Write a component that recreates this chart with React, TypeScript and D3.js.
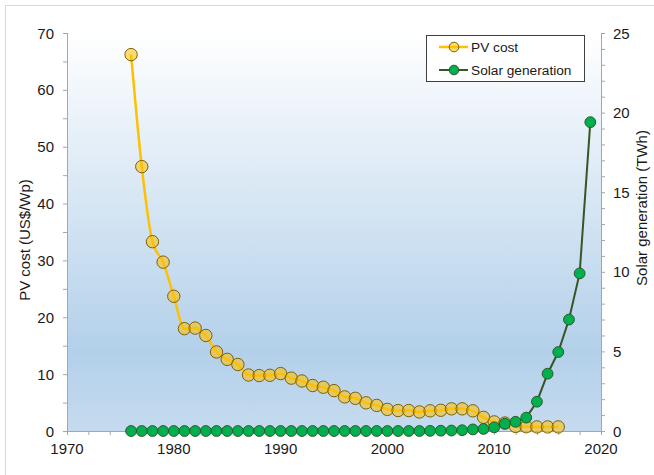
import React from "react";
import * as d3 from "d3";

const pvYears = [1976, 1977, 1978, 1979, 1980, 1981, 1982, 1983, 1984, 1985, 1986, 1987, 1988, 1989, 1990, 1991, 1992, 1993, 1994, 1995, 1996, 1997, 1998, 1999, 2000, 2001, 2002, 2003, 2004, 2005, 2006, 2007, 2008, 2009, 2010, 2011, 2012, 2013, 2014, 2015, 2016];
const pvCost = [66.2, 46.5, 33.3, 29.7, 23.7, 18.0, 18.1, 16.8, 13.9, 12.6, 11.7, 9.85, 9.75, 9.8, 10.1, 9.3, 8.8, 8.0, 7.7, 7.1, 6.0, 5.75, 4.95, 4.5, 3.8, 3.6, 3.6, 3.35, 3.55, 3.65, 3.9, 3.9, 3.55, 2.4, 1.6, 1.4, 0.8, 0.75, 0.72, 0.72, 0.72];

const genYears = [1976, 1977, 1978, 1979, 1980, 1981, 1982, 1983, 1984, 1985, 1986, 1987, 1988, 1989, 1990, 1991, 1992, 1993, 1994, 1995, 1996, 1997, 1998, 1999, 2000, 2001, 2002, 2003, 2004, 2005, 2006, 2007, 2008, 2009, 2010, 2011, 2012, 2013, 2014, 2015, 2016, 2017, 2018, 2019];
const solarGen = [0, 0, 0, 0, 0, 0, 0, 0, 0, 0, 0, 0, 0, 0, 0, 0, 0, 0, 0, 0, 0, 0, 0, 0, 0, 0, 0, 0, 0.01, 0.02, 0.03, 0.05, 0.1, 0.13, 0.23, 0.46, 0.58, 0.84, 1.84, 3.6, 4.96, 7.0, 9.9, 19.4];

const xTickLabels = [1970, 1980, 1990, 2000, 2010, 2020];
const leftTickLabels = [0, 10, 20, 30, 40, 50, 60, 70];
const rightTickLabels = [0, 5, 10, 15, 20, 25];

const seriesNames = ["PV cost", "Solar generation"];

const W = 654;
const H = 475;
const FONT = "'Liberation Sans', Arial, sans-serif";

export default function App() {
  const x = d3.scaleLinear().domain([1970, 2020]).range([67, 601]);
  const yL = d3.scaleLinear().domain([0, 70]).range([431, 33]);
  const yR = d3.scaleLinear().domain([0, 25]).range([431, 33]);

  const pvLine = d3
    .line<number>()
    .x((_, i) => x(pvYears[i]))
    .y((d) => yL(d))
    .curve(d3.curveMonotoneX);
  const genLine = d3
    .line<number>()
    .x((_, i) => x(genYears[i]))
    .y((d) => yR(d));

  const [x0, x1] = x.range();
  const yTop = yL(70);
  const yBot = yL(0);

  const xMinor = d3.range(1970, 2021, 2);
  const lMinor = d3.range(0, 71, 5);
  const rMinor = d3.range(0, 26, 1);
  const axisColor = "#a6a6a6";
  const textColor = "#1a1a1a";

  return (
    <svg width={W} height={H} style={{ position: "absolute", left: 0, top: 0, background: "#fff" }} fontFamily={FONT}>
      <defs>
        <linearGradient id="bg" x1="0" y1="0" x2="0" y2="1">
          <stop offset="0%" stopColor="#ffffff" />
          <stop offset="80%" stopColor="#b3d0ea" />
          <stop offset="100%" stopColor="#c6dbef" />
        </linearGradient>
      </defs>
      <rect x={5.5} y={5.5} width={700} height={600} fill="#fff" stroke="#d9d9d9" />
      <rect x={x0} y={yTop} width={x1 - x0} height={yBot - yTop} fill="url(#bg)" />

      {/* x axis */}
      <line x1={x0} x2={x1} y1={yBot + 0.5} y2={yBot + 0.5} stroke={axisColor} />
      {xMinor.map((v) => (
        <line key={"xm" + v} x1={x(v) + 0.5} x2={x(v) + 0.5} y1={yBot} y2={yBot + 4} stroke={axisColor} />
      ))}
      {xTickLabels.map((v) => (
        <text key={"xl" + v} x={x(v)} y={454} textAnchor="middle" fontSize={15} fill={textColor}>
          {v}
        </text>
      ))}

      {/* left axis */}
      <line x1={x0 + 0.5} x2={x0 + 0.5} y1={yTop} y2={yBot} stroke={axisColor} />
      {lMinor.map((v) => (
        <line key={"lm" + v} x1={x0 - 4} x2={x0} y1={yL(v) + 0.5} y2={yL(v) + 0.5} stroke={axisColor} />
      ))}
      {leftTickLabels.map((v) => (
        <text key={"ll" + v} x={54} y={yL(v) + 5.5} textAnchor="end" fontSize={15} fill={textColor}>
          {v}
        </text>
      ))}
      <text
        transform={`translate(30,240) rotate(-90)`}
        textAnchor="middle"
        fontSize={15}
        fill={textColor}
      >
        PV cost (US$/Wp)
      </text>

      {/* right axis */}
      <line x1={x1 + 0.5} x2={x1 + 0.5} y1={yTop} y2={yBot} stroke={axisColor} />
      {rMinor.map((v) => (
        <line key={"rm" + v} x1={x1} x2={x1 + 4} y1={yR(v) + 0.5} y2={yR(v) + 0.5} stroke={axisColor} />
      ))}
      {rightTickLabels.map((v) => (
        <text key={"rl" + v} x={613} y={yR(v) + 5.5} textAnchor="start" fontSize={15} fill={textColor}>
          {v}
        </text>
      ))}
      <text
        transform={`translate(647,208) rotate(-90)`}
        textAnchor="middle"
        fontSize={15}
        fill={textColor}
      >
        Solar generation (TWh)
      </text>

      {/* PV cost series */}
      <path d={pvLine(pvCost) || ""} fill="none" stroke="#ffc000" strokeWidth={2.5} />
      {pvCost.map((v, i) => (
        <circle
          key={"pv" + i}
          cx={x(pvYears[i])}
          cy={yL(v)}
          r={6.2}
          fill="#ffc000"
          fillOpacity={0.55}
          stroke="#7f6000"
          strokeWidth={1}
        />
      ))}

      {/* Solar generation series */}
      <path d={genLine(solarGen) || ""} fill="none" stroke="#375623" strokeWidth={2} />
      {solarGen.map((v, i) => (
        <circle
          key={"g" + i}
          cx={x(genYears[i])}
          cy={yR(v)}
          r={5.4}
          fill="#00b050"
          stroke="#2a5a25"
          strokeWidth={1}
        />
      ))}

      {/* legend */}
      <rect x={426.5} y={35.5} width={158} height={46} fill="#fff" stroke="#404040" />
      <line x1={439} x2={468} y1={47} y2={47} stroke="#ffc000" strokeWidth={2.5} />
      <circle cx={454} cy={47} r={4.8} fill="#ffc000" fillOpacity={0.55} stroke="#7f6000" />
      <text x={471} y={52} fontSize={13.7} fill={textColor}>
        {seriesNames[0]}
      </text>
      <line x1={439} x2={468} y1={70} y2={70} stroke="#375623" strokeWidth={2} />
      <circle cx={454} cy={70} r={4.8} fill="#00b050" stroke="#2a5a25" />
      <text x={471} y={75} fontSize={13.7} fill={textColor}>
        {seriesNames[1]}
      </text>
    </svg>
  );
}
